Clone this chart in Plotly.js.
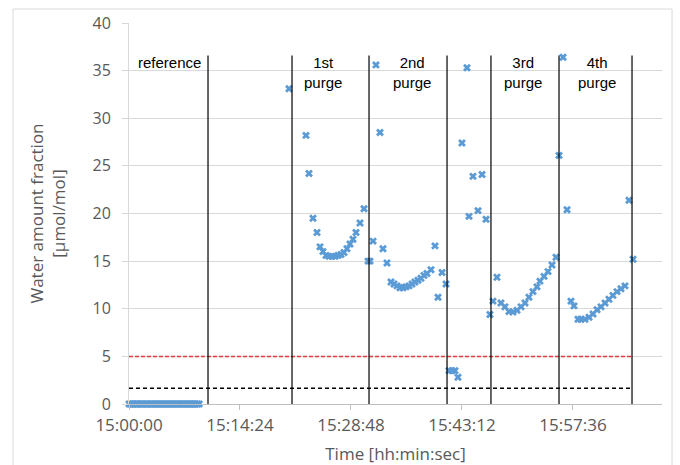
<!DOCTYPE html>
<html>
<head>
<meta charset="utf-8">
<script src="https://cdn.plot.ly/plotly-3.0.1.min.js"></script>
<style>html,body{margin:0;padding:0;background:#fff;}#chart{width:680px;height:465px;}</style>
</head>
<body>
<div id="chart"></div>
<script>
// Time in minutes after 15:00:00
const refTimes = [0,0.22,0.43,0.65,0.87,1.08,1.3,1.52,1.73,1.95,2.17,2.38,2.6,2.82,3.03,3.25,3.47,3.68,3.9,4.12,4.33,4.55,4.77,4.98,5.2,5.42,5.63,5.85,6.07,6.28,6.5,6.72,6.93,7.15,7.37,7.58,7.8,8.02,8.23,8.45,8.67,8.88,9.1];
const refValues = [0,0,0,0,0,0,0,0,0,0,0,0,0,0,0,0,0,0,0,0,0,0,0,0,0,0,0,0,0,0,0,0,0,0,0,0,0,0,0,0,0,0,0];

const purgeTimes = [20.76,22.96,23.35,23.87,24.39,24.78,25.17,25.56,25.95,26.34,26.73,27.12,27.50,27.89,28.28,28.67,29.06,29.45,29.97,30.49,31.01,31.27,31.66,
  32.04,32.56,32.95,33.47,33.99,34.38,34.77,35.16,35.55,35.94,36.33,36.72,37.10,37.49,37.88,38.27,38.66,39.18,39.70,40.09,40.61,41.13,
  41.52,41.91,42.29,42.68,43.20,43.85,44.11,44.63,45.28,45.80,46.32,
  46.83,47.22,47.74,48.26,48.78,49.30,49.82,50.34,50.86,51.38,51.89,52.41,52.93,53.32,53.84,54.36,54.88,55.40,
  55.79,56.31,56.83,57.34,57.73,58.25,58.64,59.16,59.68,60.20,60.72,61.24,61.76,62.27,62.79,63.31,63.83,64.35,64.87,65.39];
const purgeValues = [33.1,28.2,24.2,19.5,18.0,16.5,16.0,15.6,15.5,15.5,15.5,15.6,15.7,15.9,16.3,16.8,17.3,18.0,19.0,20.5,15.0,15.0,17.1,
  35.6,28.5,16.3,14.8,12.8,12.6,12.4,12.2,12.2,12.3,12.4,12.6,12.8,13.0,13.2,13.5,13.7,14.1,16.6,11.2,13.8,12.6,
  3.5,3.5,3.5,2.8,27.4,35.3,19.7,23.9,20.3,24.1,19.4,
  9.4,10.8,13.3,10.6,10.2,9.7,9.65,9.85,10.2,10.6,11.2,11.8,12.3,12.9,13.4,13.9,14.6,15.4,
  26.1,36.4,20.4,10.8,10.3,8.9,8.9,8.9,9.1,9.45,9.9,10.2,10.6,11.0,11.4,11.8,12.1,12.4,21.4,15.2];

const tickVals = [0,14.4,28.8,43.2,57.6];
const tickLabels = ['15:00:00','15:14:24','15:28:48','15:43:12','15:57:36'];

const phaseBoundaries = [10.25,21.15,31.14,41.26,46.96,55.79,65.26];
const boundaryTop = 36.6;
const phaseLabels = ['reference','1st<br>purge','2nd<br>purge','3rd<br>purge','4th<br>purge'];
const phaseLabelX = [5.19,25.17,36.72,51.12,60.72];
const phaseLabelY = [35.9,34.8,34.8,34.8,34.8];

const limitRed = 5;
const limitBlack = 1.65;
const limitEnd = 65.3;

const color = '#5b9bd5';
const traces = [
  {x: refTimes, y: refValues, type:'scatter', mode:'markers', cliponaxis:false,
   marker:{symbol:'x', size:7, color:color}, hoverinfo:'skip'},
  {x: purgeTimes, y: purgeValues, type:'scatter', mode:'markers', cliponaxis:false,
   marker:{symbol:'x', size:7, color:color}}
];

const shapes = [];
// outer chart border
shapes.push({type:'rect', xref:'paper', yref:'paper', x0:-0.2176, x1:1.0188, y0:-0.2, y1:1.0367,
  line:{color:'#d9d9d9', width:1}, layer:'below'});
shapes.push({type:'line', xref:'x', yref:'y', x0:0, x1:limitEnd, y0:limitRed, y1:limitRed,
  line:{color:'#e03c3c', width:1.5, dash:'4px,2px'}});
shapes.push({type:'line', xref:'x', yref:'y', x0:0, x1:limitEnd, y0:limitBlack, y1:limitBlack,
  line:{color:'#000', width:1.5, dash:'4px,3px'}});
phaseBoundaries.forEach(b => shapes.push({type:'line', xref:'x', yref:'y', x0:b, x1:b, y0:0, y1:boundaryTop,
  line:{color:'#000', width:1.2}}));

const annotations = phaseLabels.map((t,i) => ({x:phaseLabelX[i], y:phaseLabelY[i], xref:'x', yref:'y',
  text:t, showarrow:false, font:{family:'Liberation Sans, Arial', size:15, color:'#000'}}));

const layout = {
  width:680, height:465,
  margin:{l:129, r:18, t:23, b:61},
  paper_bgcolor:'#fff', plot_bgcolor:'#fff',
  showlegend:false,
  xaxis:{range:[0,69.15], tickvals:tickVals, ticktext:tickLabels, showgrid:false, zeroline:false,
    showline:true, linecolor:'#bfbfbf', linewidth:1, ticks:'outside', ticklen:5, tickcolor:'#bfbfbf',
    ticklabelstandoff:1,
    tickfont:{family:'Open Sans', size:17, color:'#595959'},
    title:{text:'Time [hh:min:sec]', font:{family:'Open Sans', size:17, color:'#595959'}, standoff:13}},
  yaxis:{range:[0,40], dtick:5, showgrid:true, gridcolor:'#d9d9d9', zeroline:false,
    showline:true, linecolor:'#d9d9d9', ticks:'outside', ticklen:6, tickcolor:'#d9d9d9',
    ticklabelstandoff:8,
    tickfont:{family:'Open Sans', size:16, color:'#595959'},
    title:{text:'Water amount fraction<br>[µmol/mol]', font:{family:'Open Sans', size:17, color:'#595959'}, standoff:22}},
  shapes:shapes,
  annotations:annotations
};
Plotly.newPlot('chart', traces, layout, {displayModeBar:false, staticPlot:true});
</script>
</body>
</html>
